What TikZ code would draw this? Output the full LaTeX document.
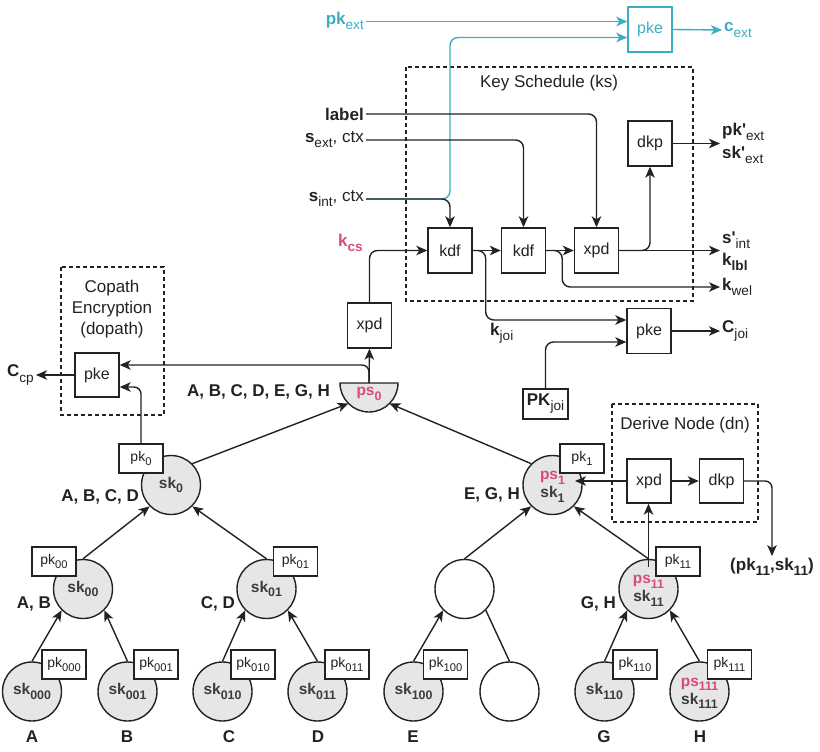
\documentclass[tikz,border=0pt]{standalone}
\usepackage{fontspec}
\setmainfont{Liberation Sans}
\usetikzlibrary{arrows.meta}
\definecolor{ink}{HTML}{222222}
\definecolor{ngray}{HTML}{E6E6E6}
\definecolor{sktext}{HTML}{3C3C3C}
\definecolor{pinkc}{HTML}{D94A80}
\definecolor{tealc}{HTML}{3AAFC3}
\newcommand\lowr[1]{\raisebox{-0.3em}{\scalebox{0.8}{#1}}}
\newcommand\fbig{\fontsize{17}{21}\selectfont}
\newcommand\fbx{\fontsize{16}{19}\selectfont}
\newcommand\fpk{\fontsize{14}{16}\selectfont}
\newcommand\fsk{\fontsize{15.5}{18}\selectfont\bfseries}
\newcommand\aps{\textquotesingle}
\newcommand\twol[2]{\begin{tabular}{@{}c@{}}#1\\#2\end{tabular}}
\begin{document}
\begin{tikzpicture}[x=1pt,y=-1pt,
  ln/.style={line width=1.4pt, draw=ink},
  arr/.style={ln, -{Stealth[length=11pt,width=9.5pt,inset=3pt]}},
  tarr/.style={line width=1.4pt, draw=tealc, -{Stealth[length=11pt,width=9.5pt,inset=3pt]}},
  opbox/.style={draw=ink, line width=1.4pt, fill=white, minimum width=44pt, minimum height=45pt, inner sep=0pt, font=\fbx, text=ink},
  pkbox/.style={draw=ink, line width=1.4pt, fill=white, minimum width=44pt, minimum height=29pt, inner sep=0pt, font=\fpk, text=ink},
  knode/.style={circle, draw=ink, line width=1.4pt, fill=ngray, minimum size=59pt, inner sep=0pt, font=\fsk, text=sktext, align=center},
  enode/.style={circle, draw=ink, line width=1.4pt, fill=white, minimum size=59pt, inner sep=0pt},
  dbox/.style={draw=ink, line width=1.2pt, dash pattern=on 4pt off 3pt},
  lbl/.style={font=\fbig, text=ink, inner sep=2pt},
  ttl/.style={font=\fbig, text=ink, align=center}
]
\useasboundingbox (0,0) rectangle (820,752);

% ---------- dashed groups ----------
\draw[dbox] (406,67) rectangle (693,301);
\node[ttl] (kstitle) at (549,83) {Key Schedule (ks)};
\draw[dbox] (61,267) rectangle (164,415);
\node[ttl, font=\fontsize{17}{21}\selectfont] (cptitle) at (112,309) {Copath\\Encryption\\(dopath)};
\draw[dbox] (612,404) rectangle (758,522);
\node[ttl] (dntitle) at (685,425) {Derive Node (dn)};

% ---------- top external pke ----------
\node[lbl, text=tealc, anchor=east] (pkext) at (366,21) {\textbf{pk}\lowr{ext}};
\node[opbox, draw=tealc, text=tealc] (tpke) at (650,29.5) {pke};
\node[lbl, text=tealc, anchor=west] (cext) at (722,30) {\textbf{c}\lowr{ext}};

% ---------- key schedule ----------
\node[lbl, anchor=east] (lab) at (366,114) {\textbf{label}};
\node[lbl, anchor=east] (sext) at (366,140) {\textbf{s}\lowr{ext}, ctx};
\node[lbl, anchor=east] (sint) at (366,199) {\textbf{s}\lowr{int}, ctx};
\node[lbl, anchor=east, text=pinkc] (kcs) at (365,243) {\textbf{k\lowr{cs}}};
\node[opbox] (kdf1) at (450,250.5) {kdf};
\node[opbox] (kdf2) at (523.5,250.5) {kdf};
\node[opbox] (xpd) at (596.5,250.5) {xpd};
\node[opbox] (dkp) at (650,143.5) {dkp};
\node[lbl, anchor=west, align=left, font=\fontsize{17}{23}\selectfont] (opk) at (720,143.5) {\textbf{pk\aps}\lowr{ext}\\\textbf{sk\aps}\lowr{ext}};
\node[lbl, anchor=west, align=left, font=\fontsize{17}{22}\selectfont] (osk) at (720,251) {\textbf{s\aps}\lowr{int}\\\textbf{k\lowr{lbl}}};
\node[lbl, anchor=west] (kwel) at (720,287) {\textbf{k}\lowr{wel}};
\node[lbl, anchor=west] (kjoi) at (488,333) {\textbf{k}\lowr{joi}};
\node[opbox] (jpke) at (649,331) {pke};
\node[lbl, anchor=west] (cjoi) at (720,331) {\textbf{C}\lowr{joi}};
\node[draw=ink, line width=1.4pt, fill=white, minimum width=45pt, minimum height=30pt, inner sep=0pt, font=\fbig, text=ink] (pkjoi) at (545.5,404) {\textbf{PK}\lowr{joi}};

% teal path first
\draw[tarr] ([yshift=8pt]tpke.west -| pkext.east) -- ([yshift=8pt]tpke.west);
\coordinate (tb) at (450,199);
\draw[tarr, rounded corners=8pt] (sint.east) -- (tb) |- ([yshift=-8pt]tpke.west);
\draw[tarr] (tpke.east) -- (cext.west);

% black key schedule lines
\draw[arr, rounded corners=8pt] (sint.east) -| (kdf1.north);
\draw[arr, rounded corners=8pt] (sext.east) -| (kdf2.north);
\draw[arr, rounded corners=8pt] (lab.east) -| (xpd.north);
\draw[arr] (kdf1) -- (kdf2);
\draw[arr] (kdf2) -- (xpd);
\draw[arr, rounded corners=8pt] (kdf1.east) -- ++(13,0) |- ([yshift=11pt]jpke.west);
\draw[arr, rounded corners=8pt] (kdf2.east) -- ++(16,0) |- (kwel.west);
\draw[arr] (xpd.east) -- (xpd.east -| osk.west);
\draw[arr, rounded corners=8pt] (xpd.east) -| (dkp.south);
\draw[arr] (dkp.east) -- (dkp.east -| opk.west);
\draw[arr, rounded corners=8pt] (pkjoi.north) |- ([yshift=-11pt]jpke.west);
\draw[arr] (jpke.east) -- (cjoi.west);

% ---------- ps0 and copath ----------
\node[opbox] (xpd0) at (369.5,325.5) {xpd};
\node[opbox, minimum height=44pt] (cpke) at (97,375) {pke};
\node[lbl, anchor=east] (ccp) at (36,375) {\textbf{C}\lowr{cp}};
\coordinate (pstop) at (369,383);
\coordinate (psL) at (348.5,403.5);
\coordinate (psR) at (389.5,403.5);
\draw[ln, fill=ngray] (340,383) arc[start angle=180, end angle=360, radius=29pt] -- cycle;
\node[font=\fsk, text=pinkc] (ps0) at (369,394) {ps\lowr{0}};
\draw[arr] (pstop) -- (xpd0.south);
\draw[arr, rounded corners=8pt] (xpd0.north) |- (kdf1.west);
\draw[arr, rounded corners=7pt] (pstop) |- ([yshift=10pt]cpke.east);
\draw[arr] (cpke.west) -- (ccp.east);

% ---------- tree nodes ----------
\node[knode] (s0) at (171,485) {sk\lowr{0}};
\node[knode] (s1) at (552.5,485) {\twol{\textcolor{pinkc}{ps\lowr{1}}}{sk\lowr{1}}};
\node[knode] (s00) at (83,589) {sk\lowr{00}};
\node[knode] (s01) at (266.5,589) {sk\lowr{01}};
\node[enode] (n10) at (464.5,589) {};
\node[knode] (s11) at (648.5,589) {\twol{\textcolor{pinkc}{ps\lowr{11}}}{sk\lowr{11}}};
\node[knode] (s000) at (32,691.5) {sk\lowr{000}};
\node[knode] (s001) at (127.5,691.5) {sk\lowr{001}};
\node[knode] (s010) at (222.5,691.5) {sk\lowr{010}};
\node[knode] (s011) at (317.5,691.5) {sk\lowr{011}};
\node[knode] (s100) at (413.5,691.5) {sk\lowr{100}};
\node[enode] (n101) at (509.5,691.5) {};
\node[knode] (s110) at (604.5,691.5) {sk\lowr{110}};
\node[knode] (s111) at (699.5,691.5) {\twol{\textcolor{pinkc}{ps\lowr{111}}}{sk\lowr{111}}};

% edges
\draw[arr] (s000.north) -- (s00.-135);
\draw[arr] (s001.north) -- (s00.-45);
\draw[arr] (s010.north) -- (s01.-135);
\draw[arr] (s011.north) -- (s01.-45);
\draw[arr] (s100.north) -- (n10.-135);
\draw[ln] (n101.north) -- (n10.-45);
\draw[arr] (s110.north) -- (s11.-135);
\draw[arr] (s111.north) -- (s11.-45);
\draw[arr] (s00.north) -- (s0.-135);
\draw[arr] (s01.north) -- (s0.-45);
\draw[arr] (n10.north) -- (s1.-135);
\draw[arr] (s11.north) -- (s1.-45);
\draw[arr] (s0.45) -- (psL);
\draw[arr] (s1.135) -- (psR);

% pk boxes
\node[pkbox] (pk0) at (141,458.5) {pk\lowr{0}};
\node[pkbox] (pk1) at (582,458.5) {pk\lowr{1}};
\node[pkbox] (pk00) at (54,561.5) {pk\lowr{00}};
\node[pkbox] (pk01) at (295.5,561.5) {pk\lowr{01}};
\node[pkbox] (pk11) at (678,561.5) {pk\lowr{11}};
\node[pkbox] (pk000) at (64,664.5) {pk\lowr{000}};
\node[pkbox] (pk001) at (156,664.5) {pk\lowr{001}};
\node[pkbox] (pk010) at (253,664.5) {pk\lowr{010}};
\node[pkbox] (pk011) at (347,664.5) {pk\lowr{011}};
\node[pkbox] (pk100) at (445.5,664.5) {pk\lowr{100}};
\node[pkbox] (pk110) at (635,664.5) {pk\lowr{110}};
\node[pkbox] (pk111) at (729.5,664.5) {pk\lowr{111}};

\draw[arr, rounded corners=7pt] (pk0.north) |- ([yshift=-12pt]cpke.east);

% derive node
\node[opbox, minimum height=44pt] (dxpd) at (649,481) {xpd};
\node[opbox, minimum height=44pt] (ddkp) at (721.5,481) {dkp};
\node[lbl] (res) at (772,567) {\textbf{(pk\lowr{11},sk\lowr{11})}};
\coordinate (s1in) at (575,481);
\coordinate (s11up) at ([yshift=-8pt]s11.north);
\draw[arr] (dxpd.west) -- (s1in);
\draw[arr] (s11up) -- (s11up |- dxpd.south);
\draw[arr] (dxpd) -- (ddkp);
\draw[arr, rounded corners=7pt] (ddkp.east) -| (res.north);

% set labels
\node[lbl, font=\fbig\bfseries, anchor=east] (setall) at (332,392) {A, B, C, D, E, G, H};
\node[lbl, font=\fbig\bfseries, anchor=east] (setl) at (141,497) {A, B, C, D};
\node[lbl, font=\fbig\bfseries, anchor=east] (setr) at (522,495) {E, G, H};
\node[lbl, font=\fbig\bfseries, anchor=east] (setab) at (53,604) {A, B};
\node[lbl, font=\fbig\bfseries, anchor=east] (setcd) at (237,604) {C, D};
\node[lbl, font=\fbig\bfseries, anchor=east] (setgh) at (618,604) {G, H};
\node[lbl, font=\fbig\bfseries] (la) at (32,737) {A};
\node[lbl, font=\fbig\bfseries] (lb) at (127,737) {B};
\node[lbl, font=\fbig\bfseries] (lc) at (229,737) {C};
\node[lbl, font=\fbig\bfseries] (ld) at (318,737) {D};
\node[lbl, font=\fbig\bfseries] (le) at (413,737) {E};
\node[lbl, font=\fbig\bfseries] (lg) at (604,737) {G};
\node[lbl, font=\fbig\bfseries] (lh) at (700,737) {H};
\end{tikzpicture}
\end{document}
